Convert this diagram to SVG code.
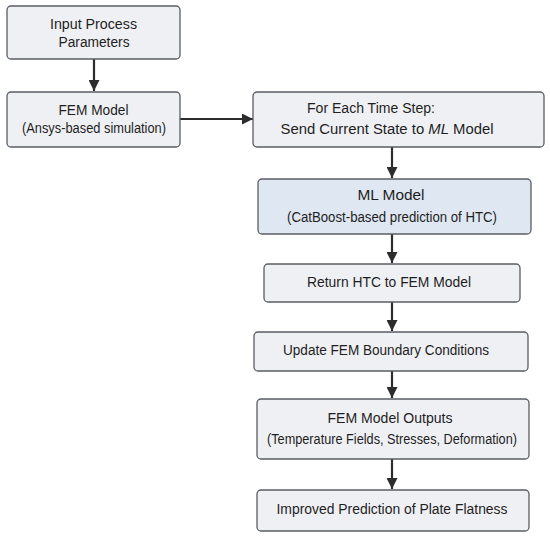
<svg xmlns="http://www.w3.org/2000/svg" width="550" height="537" viewBox="0 0 550 537">
<style>
.box{fill:#eff0f4;stroke:#5a5d63;stroke-width:1.3}
.ml{fill:#dfe8f2;stroke:#5a5d63;stroke-width:1.3}
text{font-family:"Liberation Sans",Arial,sans-serif;font-size:14px;fill:#1e1e1e;text-anchor:middle}
.c line{stroke:#2c2c2c;stroke-width:2.2}
</style>
<defs>
<marker id="ah" viewBox="0 0 10 10" refX="10" refY="5" markerWidth="5" markerHeight="5" markerUnits="strokeWidth" orient="auto">
<path d="M0,0 L10,5 L0,10 Z" fill="#2c2c2c"/>
</marker>
</defs>
<rect width="550" height="537" fill="#ffffff"/>
<g class="c">
<line x1="94" y1="59" x2="94" y2="91" marker-end="url(#ah)"/>
<line x1="180" y1="119" x2="253" y2="119" marker-end="url(#ah)"/>
<line x1="392" y1="147" x2="392" y2="178" marker-end="url(#ah)"/>
<line x1="392" y1="234" x2="392" y2="263" marker-end="url(#ah)"/>
<line x1="392" y1="302" x2="392" y2="331" marker-end="url(#ah)"/>
<line x1="392" y1="371" x2="392" y2="398" marker-end="url(#ah)"/>
<line x1="392" y1="459" x2="392" y2="489" marker-end="url(#ah)"/>
</g>
<g id="n1"><rect class="box" x="7" y="6" width="173" height="53" rx="4"/>
<text x="93.5" y="29" textLength="87" lengthAdjust="spacingAndGlyphs">Input Process</text><text x="94" y="47" textLength="71" lengthAdjust="spacingAndGlyphs">Parameters</text></g>
<g id="n2"><rect class="box" x="7" y="92" width="173" height="55" rx="4"/>
<text x="93.5" y="115" textLength="70" lengthAdjust="spacingAndGlyphs">FEM Model</text><text x="94" y="133" textLength="144" lengthAdjust="spacingAndGlyphs">(Ansys-based simulation)</text></g>
<g id="n3"><rect class="box" x="253" y="92" width="291" height="55" rx="4"/>
<text x="371" y="113" textLength="128" lengthAdjust="spacingAndGlyphs">For Each Time Step:</text><text x="387" y="134" textLength="213" lengthAdjust="spacingAndGlyphs">Send Current State to <tspan font-style="italic">ML</tspan> Model</text></g>
<g id="n4"><rect class="ml" x="258" y="179" width="273" height="55" rx="4"/>
<text x="391" y="200" textLength="67" lengthAdjust="spacingAndGlyphs">ML Model</text><text x="392" y="222" textLength="210" lengthAdjust="spacingAndGlyphs">(CatBoost-based prediction of HTC)</text></g>
<g id="n5"><rect class="box" x="264" y="264" width="256" height="38" rx="4"/>
<text x="389" y="287" textLength="164" lengthAdjust="spacingAndGlyphs">Return HTC to FEM Model</text></g>
<g id="n6"><rect class="box" x="254" y="332" width="274" height="39" rx="4"/>
<text x="386" y="355" textLength="206" lengthAdjust="spacingAndGlyphs">Update FEM Boundary Conditions</text></g>
<g id="n7"><rect class="box" x="257" y="399" width="272" height="60" rx="4"/>
<text x="390" y="423" textLength="125" lengthAdjust="spacingAndGlyphs">FEM Model Outputs</text><text x="392" y="444" font-size="13.5" textLength="250" lengthAdjust="spacingAndGlyphs">(Temperature Fields, Stresses, Deformation)</text></g>
<g id="n8"><rect class="box" x="257" y="490" width="272" height="41" rx="4"/>
<text x="392" y="514" textLength="231" lengthAdjust="spacingAndGlyphs">Improved Prediction of Plate Flatness</text></g>
</svg>
